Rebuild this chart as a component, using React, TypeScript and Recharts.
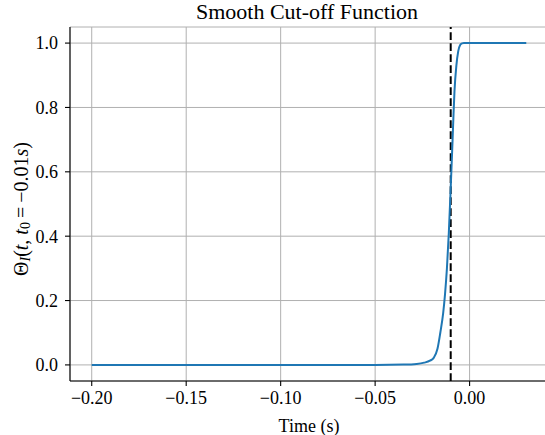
import { LineChart, Line, XAxis, YAxis, CartesianGrid, ReferenceLine, Label } from 'recharts';

// Sampled cut-off curve: time (s) and Θ value
const timeValues = [
  -0.2, -0.1, -0.05, -0.035, -0.028, -0.024, -0.021, -0.019, -0.017, -0.0155, -0.014, -0.013, -0.012,
  -0.011, -0.01, -0.009, -0.0085, -0.008, -0.007, -0.006, -0.005, -0.004, -0.003, 0, 0.03,
];
const thetaValues = [
  0, 0, 0, 0.001, 0.003, 0.007, 0.013, 0.022, 0.05, 0.1, 0.16, 0.22, 0.3,
  0.41, 0.55, 0.7, 0.78, 0.85, 0.93, 0.975, 0.994, 0.999, 1, 1, 1,
];
const cutoffTime = -0.01;

const xTicks = [-0.2, -0.15, -0.1, -0.05, 0];
const yTicks = [0, 0.2, 0.4, 0.6, 0.8, 1.0];

const data = timeValues.map((t, i) => ({ t, theta: thetaValues[i] }));

const FONT = '"Liberation Serif", "DejaVu Serif", serif';
const tickStyle = { fontSize: 18, fill: '#000', fontFamily: FONT };
const fmtMinus = (s: string) => s.replace('-', '\u2212');

const YLabel = ({ viewBox }: any) => {
  const cx = 21;
  const cy = viewBox.y + viewBox.height / 2 + 5;
  return (
    <text
      x={cx}
      y={cy}
      transform={`rotate(-90, ${cx}, ${cy})`}
      textAnchor="middle"
      dominantBaseline="central"
      fontFamily={FONT}
      fontSize={20}
      fill="#000"
    >
      <tspan>Θ</tspan>
      <tspan fontStyle="italic" fontSize={14} dy={4}>I</tspan>
      <tspan dy={-4}>(</tspan>
      <tspan fontStyle="italic">t</tspan>
      <tspan>, </tspan>
      <tspan fontStyle="italic">t</tspan>
      <tspan fontSize={14} dy={4}>0</tspan>
      <tspan dy={-4}>{'\u2009=\u2009\u22120.01'}</tspan>
      <tspan fontStyle="italic">s</tspan>
      <tspan>)</tspan>
    </text>
  );
};

export default function App() {
  return (
    <div style={{ position: 'absolute', left: 0, top: 0, width: 545, height: 435, overflow: 'hidden', background: '#fff' }}>
      <div
        style={{
          position: 'absolute',
          left: 70,
          width: 474,
          top: 1,
          textAlign: 'center',
          fontFamily: FONT,
          fontSize: 22,
          lineHeight: '22px',
          color: '#000',
        }}
      >
        Smooth Cut-off Function
      </div>
      <LineChart width={548} height={435} data={data} margin={{ top: 27, right: 0, left: 0, bottom: 0 }}>
        <CartesianGrid stroke="#b0b0b0" strokeWidth={1} />
        <XAxis
          dataKey="t"
          type="number"
          domain={[-0.2115, 0.0415]}
          ticks={xTicks}
          allowDataOverflow
          height={54}
          tick={tickStyle}
          tickSize={5}
          tickMargin={5}
          tickLine={{ stroke: '#000', strokeWidth: 1.1 }}
          axisLine={{ stroke: '#000', strokeWidth: 1.1 }}
          tickFormatter={(v: number) => fmtMinus(v.toFixed(2))}
        >
          <Label value="Time (s)" position="insideBottom" offset={3} style={{ fontSize: 18, fill: '#000', fontFamily: FONT }} />
        </XAxis>
        <XAxis
          xAxisId="top"
          orientation="top"
          type="number"
          domain={[-0.2115, 0.0415]}
          height={0}
          tick={false}
          tickLine={false}
          axisLine={{ stroke: '#000', strokeWidth: 1.1 }}
        />
        <YAxis
          type="number"
          domain={[-0.05, 1.05]}
          ticks={yTicks}
          allowDataOverflow
          width={70}
          tick={tickStyle}
          tickSize={5}
          tickMargin={7}
          tickLine={{ stroke: '#000', strokeWidth: 1.1 }}
          axisLine={{ stroke: '#000', strokeWidth: 1.1 }}
          tickFormatter={(v: number) => v.toFixed(1)}
          label={<Label content={YLabel} />}
        />
        <ReferenceLine x={cutoffTime} stroke="#000" strokeWidth={2} strokeDasharray="7.7 3.3" />
        <Line
          type="monotone"
          dataKey="theta"
          stroke="#1f77b4"
          strokeWidth={2}
          dot={false}
          isAnimationActive={false}
        />
      </LineChart>
    </div>
  );
}
